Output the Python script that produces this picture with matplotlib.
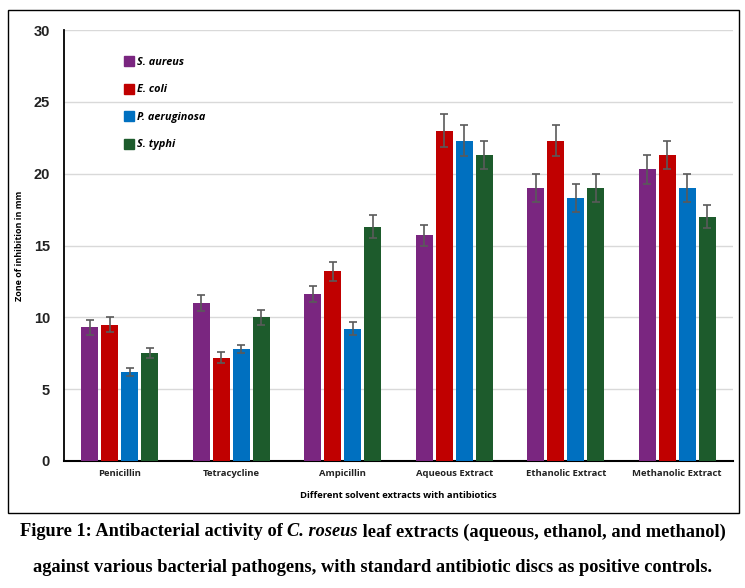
import numpy as np
import matplotlib.pyplot as plt
from matplotlib.patches import Rectangle
from matplotlib.lines import Line2D

categories = ["Penicillin", "Tetracycline", "Ampicillin",
              "Aqueous Extract", "Ethanolic Extract", "Methanolic Extract"]
species = ["S. aureus", "E. coli", "P. aeruginosa", "S. typhi"]

s_aureus = [9.3, 11.0, 11.6, 15.7, 19.0, 20.3]
e_coli = [9.5, 7.2, 13.2, 23.0, 22.3, 21.3]
p_aeruginosa = [6.2, 7.8, 9.2, 22.3, 18.3, 19.0]
s_typhi = [7.5, 10.0, 16.3, 21.3, 19.0, 17.0]

err_s_aureus = [0.5, 0.55, 0.55, 0.75, 1.0, 1.0]
err_e_coli = [0.5, 0.4, 0.65, 1.15, 1.1, 1.0]
err_p_aeruginosa = [0.3, 0.3, 0.45, 1.1, 0.95, 1.0]
err_s_typhi = [0.35, 0.5, 0.8, 1.0, 1.0, 0.8]

values = [s_aureus, e_coli, p_aeruginosa, s_typhi]
errors = [err_s_aureus, err_e_coli, err_p_aeruginosa, err_s_typhi]
colors = ["#7A2680", "#C00000", "#0070C0", "#1D5B2C"]

SANS = "Open Sans"
SERIF = "Liberation Serif"

fig = plt.figure(figsize=(7.45, 5.88), dpi=100)
fig.patch.set_facecolor("white")

# outer frame around the chart
fig.add_artist(Rectangle((8 / 745, 1 - 513 / 588), 731 / 745, 503 / 588,
                         transform=fig.transFigure, fill=False,
                         edgecolor="black", linewidth=1.0))

ax = fig.add_axes([64 / 745, 1 - 461 / 588, 669 / 745, 431 / 588])
x = np.arange(len(categories))
width = 0.155
step = 0.18
for i, (vals, errs, c) in enumerate(zip(values, errors, colors)):
    ax.bar(x + (i - 1.5) * step, vals, width, color=c, yerr=errs,
           error_kw=dict(ecolor="#5A5A5A", elinewidth=1.2, capsize=3, capthick=1.2),
           zorder=3)

ax.set_xlim(-0.5, len(categories) - 0.5)
ax.set_ylim(0, 30)
ax.set_yticks(range(0, 31, 5))
ax.yaxis.grid(True, color="#D9D9D9", linewidth=1.0, zorder=0)
ax.set_axisbelow(True)
for s in ["top", "right"]:
    ax.spines[s].set_visible(False)
ax.spines["left"].set_linewidth(1.3)
ax.spines["bottom"].set_linewidth(1.5)
ax.tick_params(length=0, pad=6)
ax.set_xticks(x)
ax.set_xticklabels(categories, fontsize=6.8, fontweight="bold", color="#222222",
                   family=SANS)
for lab in ax.get_yticklabels():
    lab.set_fontsize(10.5)
    lab.set_fontweight("bold")
    lab.set_color("#222222")
    lab.set_family("Liberation Sans")
ax.tick_params(axis="y", pad=10)
ax.set_ylabel("Zone of inhibition in mm", fontsize=6.5, fontweight="bold",
              family=SANS, labelpad=7)
ax.set_xlabel("Different solvent extracts with antibiotics", fontsize=6.8,
              fontweight="bold", family=SANS, labelpad=9)

handles = [Line2D([], [], marker="s", linestyle="none", markersize=7,
                  markerfacecolor=c, markeredgecolor=c) for c in colors]
leg = ax.legend(handles, species, loc="upper left", bbox_to_anchor=(0.075, 0.96),
                frameon=False, labelspacing=1.52, handletextpad=0.25,
                handlelength=1.0,
                prop=dict(size=7.8, weight="bold", style="italic", family=SANS))

# caption, first line built from pieces so the species name can be italic
cap_kw = dict(fontsize=13.2, fontweight="bold", family=SERIF, va="center")
y1 = 1 - 532 / 588
parts = [("Figure 1: Antibacterial activity of ", "normal"),
         ("C. roseus", "italic"),
         (" leaf extracts (aqueous, ethanol, and methanol)", "normal")]
renderer = fig.canvas.get_renderer()
texts = []
for s, st in parts:
    t = fig.text(0, y1, s, style=st, ha="left", **cap_kw)
    texts.append(t)
widths = [t.get_window_extent(renderer).width for t in texts]
total = sum(widths)
x0 = (fig.bbox.width - total) / 2
for t, w in zip(texts, widths):
    t.set_x(x0 / fig.bbox.width)
    x0 += w
fig.text(0.5, 1 - 568 / 588,
         "against various bacterial pathogens, with standard antibiotic discs as positive controls.",
         ha="center", **cap_kw)

fig.savefig("out.png", dpi=100, facecolor="white")
